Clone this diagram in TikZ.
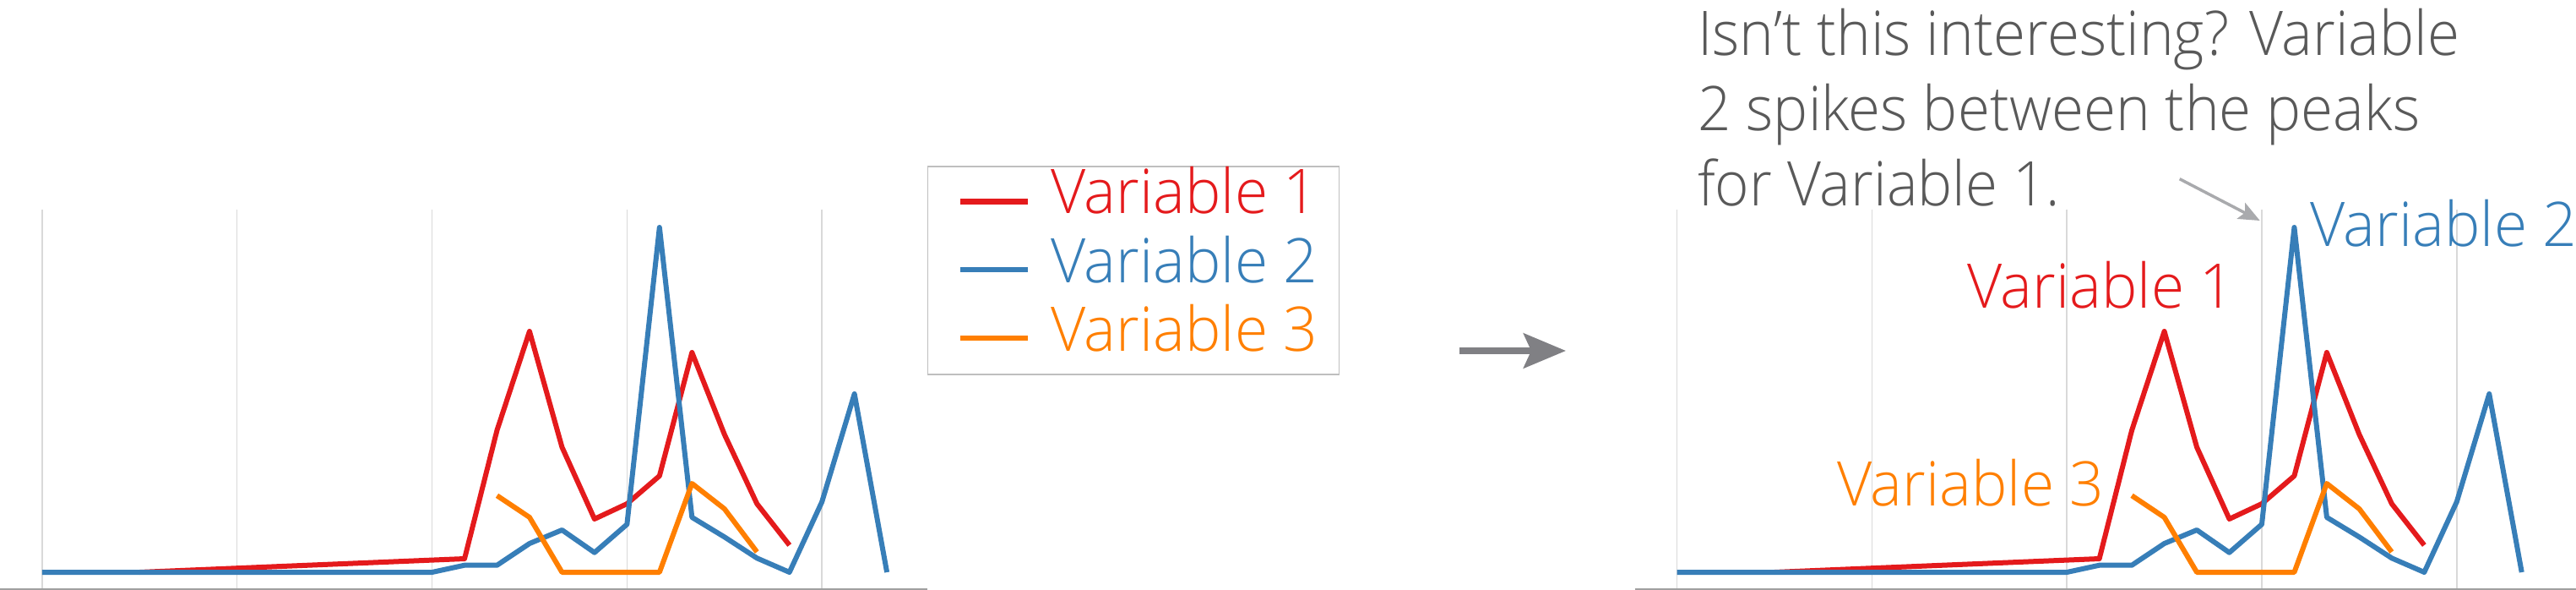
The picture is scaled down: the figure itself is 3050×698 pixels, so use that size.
\documentclass[tikz,border=0pt]{standalone}
\usepackage{fontspec}
\IfFontExistsTF{Open Sans Light}{%
  \setmainfont{Open Sans Light}[FakeStretch=0.98]%
  \newfontfamily\notefamily{Open Sans Light}[FakeStretch=0.95]}{%
  \setmainfont{Open Sans}[FakeStretch=0.98]%
  \newfontfamily\notefamily{Open Sans}[FakeStretch=0.95]}
\usetikzlibrary{arrows.meta}
\definecolor{vone}{HTML}{E41A1C}
\definecolor{vtwo}{HTML}{377EB8}
\definecolor{vthree}{HTML}{FF7F00}
\definecolor{gridc}{HTML}{D9D9D9}
\definecolor{axisc}{HTML}{A0A0A0}
\definecolor{notec}{HTML}{595959}
\definecolor{arrowc}{HTML}{808084}
\definecolor{pointc}{HTML}{A9AAAD}
\definecolor{legc}{HTML}{BFBFBF}
\tikzset{
  series/.style={line width=6pt, line join=round},
  gridline/.style={draw=gridc, line width=1.5pt},
  axisline/.style={draw=axisc, line width=2pt},
  lbl/.style={font=\fontsize{72.8}{89}\selectfont, inner sep=0pt, anchor=base west},
  pics/chart/.style={code={
    \foreach \g in {0,6,12,18,24}
      \draw[gridline] ({49.9+\g*38.47},247.7) -- ({49.9+\g*38.47},696);
    \draw[axisline] (0,696.7) -- (#1,696.7);
    \begin{scope}[xshift=49.9pt, yshift=-677pt, x=38.47pt, y=1pt]
      \draw[series, vone] (3,0) -- (13,16) -- (14,168) -- (15,285) -- (16,148) -- (17,63) -- (18,81) -- (19,114) -- (20,260) -- (21,163) -- (22,81) -- (23,32);
      \draw[series, vtwo] (0,0) -- (12,0) -- (13,8.3) -- (14,8.3) -- (15,34) -- (16,50) -- (17,23.3) -- (18,56.7) -- (19,408) -- (20,65) -- (21,41.7) -- (22,16.7) -- (23,0) -- (24,83.3) -- (25,211) -- (26,0);
      \draw[series, vthree] (14,90.7) -- (15,65) -- (16,0) -- (19,0) -- (20,105) -- (21,75) -- (22,24);
    \end{scope}
  }}
}
\begin{document}
\begin{tikzpicture}[x=1pt,y=-1pt]
\useasboundingbox (0,0) rectangle (3050,698);
% left chart
\pic (before) at (0,0) {chart=1097.7};
% legend
\node (legend) [draw=legc, line width=1.5pt, inner sep=0pt, anchor=north west,
  minimum width=487pt, minimum height=246pt] at (1097.7,196) {};
\draw[vone, line width=6.5pt] (1137,238.3) -- (1217,238.3);
\draw[vtwo, line width=6.5pt] (1137,319) -- (1217,319);
\draw[vthree, line width=6.5pt] (1137,400) -- (1217,400);
\node (leg1) [lbl, text=vone] at (1244,252.7) {Variable 1};
\node (leg2) [lbl, text=vtwo] at (1244,334) {Variable 2};
\node (leg3) [lbl, text=vthree] at (1244,415) {Variable 3};
% transition arrow
\coordinate (arrS) at (1728,415);
\coordinate (arrE) at (1854,415);
\draw[arrowc, line width=8pt, -{Stealth[length=50pt,width=41pt,inset=9pt]}] (arrS) -- (arrE);
% right chart
\pic (after) at (1935.6,0) {chart=1114.4};
\node (lab2) [lbl, text=vtwo] at (2735,291.7) {Variable 2};
\node (lab1) [lbl, text=vone] at (2329,364.2) {Variable 1};
\node (lab3) [lbl, text=vthree] at (2175,598.8) {Variable 3};
% annotation
\node (note) [font=\notefamily\fontsize{72.8}{89}\selectfont, text=notec, inner sep=0pt, align=left, anchor=north west]
  at (2010,9.7) {Isn’t this interesting? Variable\\2 spikes between the peaks\\for Variable 1.};
\coordinate (noteS) at (2580.7,211.7);
\coordinate (noteE) at (2675.7,261);
\draw[pointc, line width=3.5pt, -{Stealth[length=25pt,width=21pt,inset=5pt]}] (noteS) -- (noteE);
\end{tikzpicture}
\end{document}
